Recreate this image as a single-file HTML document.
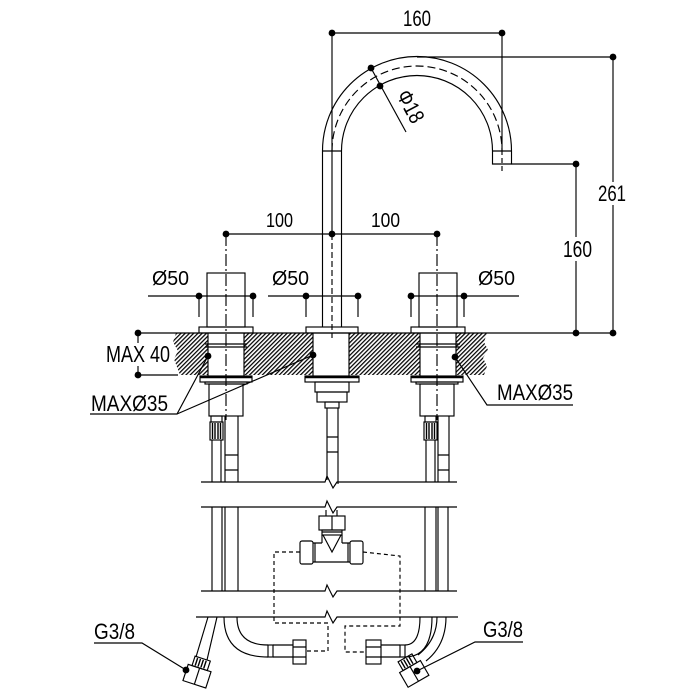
<!DOCTYPE html>
<html><head><meta charset="utf-8"><style>
html,body{margin:0;padding:0;background:#fff;}
svg{display:block;}
text{font-family:"Liberation Sans Narrow","Liberation Sans",sans-serif;fill:#000;}
</style></head><body>
<svg width="700" height="700" viewBox="0 0 700 700" xmlns="http://www.w3.org/2000/svg">
<defs>
<pattern id="h" width="3" height="3" patternUnits="userSpaceOnUse" patternTransform="rotate(45)">
<line x1="0.6" y1="0" x2="0.6" y2="3" stroke="#000" stroke-width="1.3"/>
</pattern>
</defs>
<rect width="700" height="700" fill="#fff"/>

<!-- deck hatching -->
<g fill="url(#h)" stroke="none">
<path d="M176,333 L208,333 L208,375 L180,375 L177,367 L174,359 L178,351 L173,342 Z"/>
<rect x="244" y="333" width="69" height="42"/>
<rect x="349" y="333" width="71" height="42"/>
<path d="M456,333 L487,333 L484,342 L488,350 L483,358 L487,366 L484,375 L456,375 Z"/>
</g>

<g stroke="#000" stroke-width="1.15" fill="none">
<!-- top 160 dimension -->
<line x1="332" y1="33" x2="502" y2="33"/>
<line x1="332" y1="33" x2="332" y2="234"/>
<line x1="332" y1="234" x2="332" y2="338" stroke-dasharray="6,3"/>
<line x1="502" y1="33" x2="502" y2="150"/>
<line x1="502" y1="150" x2="502" y2="172" stroke-dasharray="5,3"/>

<!-- spout -->
<path d="M322.5,327 V151 A94.5,94.5 0 0 1 511.5,151 V164 H492.5 V151 A75.5,75.5 0 0 0 341.5,151 V327"/>
<path d="M322.5,151 H341.5 M492.5,151 H511.5"/>
<path d="M332,151 A85,85 0 0 1 502,151" stroke-dasharray="8,4"/>

<!-- extension lines right -->
<line x1="417" y1="57" x2="613" y2="57"/>
<line x1="511.5" y1="164" x2="576" y2="164"/>
<line x1="576" y1="164" x2="576" y2="333"/>
<line x1="613" y1="57" x2="613" y2="333"/>
<line x1="138" y1="333" x2="613" y2="333"/>

<!-- phi 18 leader -->
<line x1="371" y1="68" x2="406" y2="132"/>

<!-- 100 dims -->
<line x1="226" y1="234" x2="437" y2="234"/>
<line x1="226" y1="234" x2="226" y2="420" stroke-dasharray="12,3,2,3"/>
<line x1="437" y1="234" x2="437" y2="420" stroke-dasharray="12,3,2,3"/>

<!-- knobs and flanges -->
<rect x="207" y="273" width="38" height="54"/>
<rect x="199" y="327" width="54" height="6"/>
<rect x="306" y="327" width="52" height="6"/>
<rect x="419" y="273" width="38" height="54"/>
<rect x="411" y="327" width="54" height="6"/>

<!-- phi 50 dims -->
<line x1="148" y1="296" x2="253" y2="296"/>
<line x1="199" y1="296" x2="199" y2="317"/>
<line x1="253" y1="296" x2="253" y2="317"/>
<line x1="268" y1="296" x2="359" y2="296"/>
<line x1="306" y1="296" x2="306" y2="317"/>
<line x1="358" y1="296" x2="358" y2="317"/>
<line x1="411" y1="296" x2="519" y2="296"/>
<line x1="411" y1="296" x2="411" y2="317"/>
<line x1="464" y1="296" x2="464" y2="317"/>

<!-- MAX 40 -->
<line x1="138" y1="333" x2="138" y2="375"/>
<line x1="138" y1="375" x2="178" y2="375"/>

<!-- holes -->
<path d="M208,333 V376 M244,333 V376 M313,333 V376 M349,333 V376 M420,333 V376 M456,333 V376"/>
<path d="M205,344 H247 M205,347 H247 M416,344 H460 M416,347 H460"/>

<!-- left valve under deck -->
<rect x="200" y="376" width="52" height="6"/>
<line x1="200" y1="377" x2="252" y2="377" stroke-width="2.5"/>
<rect x="205" y="382" width="42" height="2"/>
<rect x="209" y="384" width="34" height="32"/>
<rect x="211" y="416" width="11" height="6"/>
<rect x="210" y="422" width="13" height="18"/>
<path d="M212.5,423 V439 M215,423 V439 M218,423 V439 M220.5,423 V439" stroke-width="1.4"/>
<path d="M212,440 V482 M221,440 V482"/>
<path d="M225,416 V482 M238,416 V482 M225,455 H238 M225,470 H238"/>

<!-- right valve under deck -->
<rect x="411" y="376" width="52" height="6"/>
<line x1="411" y1="377" x2="463" y2="377" stroke-width="2.5"/>
<rect x="416" y="382" width="42" height="2"/>
<rect x="420" y="384" width="34" height="32"/>
<rect x="425" y="416" width="11" height="6"/>
<rect x="424" y="422" width="13" height="18"/>
<path d="M426.5,423 V439 M429,423 V439 M432,423 V439 M434.5,423 V439" stroke-width="1.4"/>
<path d="M426,440 V482 M435,440 V482"/>
<path d="M438,416 V482 M449,416 V482 M438,455 H449 M438,470 H449"/>

<!-- center under deck -->
<rect x="305" y="376" width="54" height="6"/>
<line x1="305" y1="377" x2="359" y2="377" stroke-width="2.5"/>
<rect x="315" y="382" width="34" height="10"/>
<rect x="317" y="392" width="30" height="10"/>
<rect x="325" y="402" width="14" height="6"/>
<path d="M327,408 V480 M338,408 V484 M327,437 H338 M327,452 H338"/>

<!-- horizontal break lines -->
<path d="M201,482 H325 L327,476 L333,488 L337,482 H457"/>
<path d="M201,507 H325 L327,501 L333,513 L337,507 H457"/>
<path d="M201,591 H325 L327,585 L333,597 L337,591 H457"/>
<path d="M196,617 H325 L327,611 L333,623 L337,617 H458"/>

<!-- pipes between lines -->
<path d="M212,507 V591 M222,507 V591 M225,507 V591 M238,507 V591"/>
<path d="M425,507 V591 M436,507 V591 M438,507 V591 M448,507 V591"/>

<!-- tee fitting -->
<path d="M326,510 V516 M337,510 V516"/>
<rect x="319" y="516" width="26" height="14"/>
<line x1="332" y1="516" x2="332" y2="530"/>
<rect x="322" y="530" width="20" height="5"/>
<path d="M322,532 H342" />
<path d="M322,535 V543 M342,535 V543 M323,535 L332,552 L341,535"/>
<path d="M313,543 H322 M342,543 H350 M313,562 H350"/>
<rect x="300" y="541" width="13" height="23" rx="2"/>
<rect x="350" y="541" width="13" height="23" rx="2"/>
<path d="M315,543 V562 M348,543 V562"/>

<!-- dashed connections -->
<path d="M300,552 H274 V623 H328 V651 H306" stroke-dasharray="4,3"/>
<path d="M363,552 L400,556 V626 H345 V652 H366" stroke-dasharray="4,3"/>

<!-- left curved hose -->
<path d="M224,617 Q224,657 268,657"/>
<path d="M237,617 Q237,645 268,645"/>
<rect x="268" y="645" width="5" height="12"/>
<path d="M273,645 H293 M273,657 H293"/>
<rect x="293" y="640" width="13" height="24"/>
<path d="M293,647 H306 M293,657 H306"/>

<!-- right curved hose -->
<path d="M432,617 Q432,657 405,657"/>
<path d="M420,617 Q420,645 405,645"/>
<rect x="400" y="645" width="5" height="12"/>
<path d="M381,645 H400 M381,657 H400"/>
<rect x="366" y="640" width="15" height="24"/>
<path d="M366,647 H381 M366,657 H381"/>

<!-- left angled hose -->
<path d="M208,617 L196,657 M217,617 L207,660"/>
<g transform="rotate(18 199 670)">
<rect x="191" y="658" width="16" height="10"/>
<path d="M194,659 V667 M197,659 V667 M200,659 V667 M203,659 V667" stroke-width="1.4"/>
<rect x="187" y="668" width="24" height="17"/>
<path d="M199,668 V685"/>
</g>

<!-- right angled hose -->
<path d="M437,617 Q437,640 418,655 M446,617 Q446,645 426,661"/>
<g transform="rotate(-30 412 670)">
<rect x="404" y="656" width="16" height="10"/>
<path d="M407,657 V665 M410,657 V665 M413,657 V665 M416,657 V665" stroke-width="1.4"/>
<rect x="400" y="666" width="24" height="17"/>
<path d="M412,666 V683"/>
</g>

<!-- leaders -->
<path d="M90,414 H177 L208,356 M177,414 L313,355"/>
<path d="M573,405 H487 L455,357"/>
<path d="M94,643 H142 L186,670"/>
<path d="M523,642 H475 L417,671"/>
</g>

<!-- dots -->
<g fill="#000">
<circle cx="332" cy="33" r="3.4"/><circle cx="502" cy="33" r="3.4"/>
<circle cx="613" cy="57" r="3.4"/><circle cx="613" cy="333" r="3.4"/>
<circle cx="576" cy="164" r="3.4"/><circle cx="576" cy="333" r="3.4"/>
<circle cx="371" cy="68" r="3.4"/><circle cx="380" cy="86" r="3.4"/>
<circle cx="226" cy="234" r="3.4"/><circle cx="332" cy="234" r="3.4"/><circle cx="437" cy="234" r="3.4"/>
<circle cx="199" cy="296" r="3.4"/><circle cx="253" cy="296" r="3.4"/>
<circle cx="306" cy="296" r="3.4"/><circle cx="358" cy="296" r="3.4"/>
<circle cx="411" cy="296" r="3.4"/><circle cx="464" cy="296" r="3.4"/>
<circle cx="138" cy="333" r="3.4"/><circle cx="138" cy="375" r="3.4"/>
<circle cx="208" cy="356" r="3.4"/><circle cx="313" cy="355" r="3.4"/><circle cx="455" cy="357" r="3.4"/>
<circle cx="186" cy="670" r="3.4"/><circle cx="417" cy="671" r="3.4"/>
</g>

<!-- text backgrounds -->
<rect x="561" y="237" width="32" height="24" fill="#fff"/>
<rect x="597" y="182" width="31" height="23" fill="#fff"/>
<rect x="104" y="343" width="68" height="23" fill="#fff"/>

<!-- labels -->
<text x="403" y="26" font-size="22" textLength="28" lengthAdjust="spacingAndGlyphs">160</text>
<text x="598" y="201" font-size="22" textLength="28" lengthAdjust="spacingAndGlyphs">261</text>
<text x="563" y="257" font-size="23" textLength="29" lengthAdjust="spacingAndGlyphs">160</text>
<text x="266" y="227" font-size="20" textLength="27" lengthAdjust="spacingAndGlyphs">100</text>
<text x="371" y="227" font-size="20" textLength="29" lengthAdjust="spacingAndGlyphs">100</text>
<text x="152" y="285" font-size="20" textLength="37" lengthAdjust="spacingAndGlyphs">Ø50</text>
<text x="272" y="285" font-size="20" textLength="37" lengthAdjust="spacingAndGlyphs">Ø50</text>
<text x="478" y="285" font-size="20" textLength="37" lengthAdjust="spacingAndGlyphs">Ø50</text>
<text x="106" y="362" font-size="23" textLength="64" lengthAdjust="spacingAndGlyphs">MAX 40</text>
<text x="91" y="411" font-size="22" textLength="77" lengthAdjust="spacingAndGlyphs">MAXØ35</text>
<text x="497" y="400" font-size="22" textLength="76" lengthAdjust="spacingAndGlyphs">MAXØ35</text>
<text x="94" y="639" font-size="22" textLength="41" lengthAdjust="spacingAndGlyphs">G3/8</text>
<text x="483" y="637" font-size="22" textLength="40" lengthAdjust="spacingAndGlyphs">G3/8</text>
<text x="0" y="0" font-size="22" text-anchor="middle" textLength="34" lengthAdjust="spacingAndGlyphs" transform="translate(404 110) rotate(62)">Φ18</text>
</svg>
</body></html>
